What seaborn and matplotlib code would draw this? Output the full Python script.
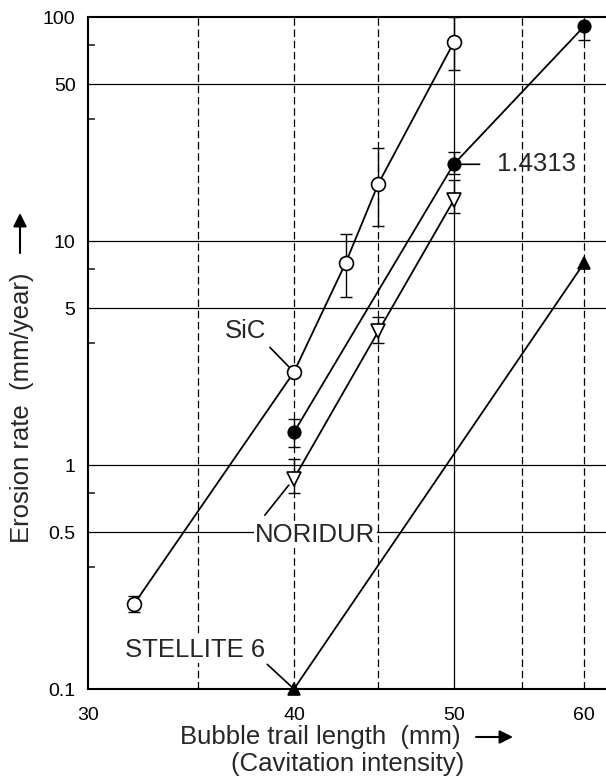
import matplotlib
matplotlib.use('Agg')
import matplotlib.pyplot as plt
import seaborn as sns
from matplotlib.ticker import FixedLocator, FixedFormatter, NullLocator

# 数据（从图上读取，对数坐标）
sic_x = [32, 40, 43, 45, 50]
sic_y = [0.24, 2.6, 8.0, 18.0, 77.0]
sic_lo = [0.22, 2.6, 5.6, 11.7, 58.0]
sic_hi = [0.26, 2.6, 10.7, 26.0, 100.0]

steel_x = [40, 50, 60]
steel_y = [1.4, 22.0, 91.0]
steel_lo = [1.2, 20.0, 79.0]
steel_hi = [1.6, 25.0, 91.0]

nor_x = [40, 45, 50]
nor_y = [0.87, 3.95, 15.2]
nor_lo = [0.75, 3.5, 13.4]
nor_hi = [1.06, 4.6, 18.7]

stel_x = [40, 60]
stel_y = [0.1, 8.0]

x_ticks = [30, 40, 50, 60]
x_ticklabels = ['30', '40', '50', '60']
y_ticks = [0.1, 0.5, 1, 5, 10, 50, 100]
y_ticklabels = ['0.1', '0.5', '1', '5', '10', '50', '100']
y_minor = [0.35, 0.75, 3.5, 7.5, 35, 75]
x_dashed = [35, 40, 45, 55, 60]
x_solid = [50]
y_grid = [0.5, 1, 5, 10, 50]

sns.set_theme(style="white")
plt.rcParams['font.family'] = ['Liberation Sans', 'DejaVu Sans']

fig = plt.figure(figsize=(6.06, 7.79), dpi=100)
ax = fig.add_axes([88 / 606, 90 / 779, 518 / 606, 672 / 779])
ax.set_xscale('log')
ax.set_yscale('log')
ax.set_xlim(30, 61.85)
ax.set_ylim(0.1, 100)

# 网格线
for v in x_dashed:
    ax.axvline(v, color='black', lw=0.9, ls=(0, (6, 3)), zorder=1)
for v in x_solid:
    ax.axvline(v, color='black', lw=0.9, zorder=1)
for v in y_grid:
    ax.axhline(v, color='black', lw=0.9, zorder=1)

# 各材料曲线
series = [
    (sic_x, sic_y, 'o', 'white', 10),
    (steel_x, steel_y, 'o', 'black', 9),
    (nor_x, nor_y, 'v', 'white', 10),
    (stel_x, stel_y, '^', 'black', 9),
]
for xs, ys, mk, fc, ms in series:
    sns.lineplot(x=xs, y=ys, ax=ax, color='black', lw=1.3, marker=mk,
                 markersize=ms, markerfacecolor=fc, markeredgecolor='black',
                 markeredgewidth=1.2, estimator=None, sort=False, zorder=4,
                 clip_on=False)

# 误差棒
for xs, ys, lo, hi in [(sic_x, sic_y, sic_lo, sic_hi),
                       (steel_x, steel_y, steel_lo, steel_hi),
                       (nor_x, nor_y, nor_lo, nor_hi)]:
    err = [[y - l for y, l in zip(ys, lo)], [h - y for y, h in zip(ys, hi)]]
    ax.errorbar(xs, ys, yerr=err, fmt='none', ecolor='black', elinewidth=1.0,
                capsize=4.5, capthick=1.0, zorder=3)

# 标注
lab_fs = 18.5
leader = dict(arrowstyle='-', color='black', lw=1.2)
ax.annotate('1.4313', xy=(50, 22), xytext=(53.1, 22), ha='left', va='center',
            fontsize=lab_fs, zorder=5,
            arrowprops=dict(leader, relpos=(0, 0.5), shrinkA=10, shrinkB=4))
ax.annotate('SiC', xy=(40, 2.6), xytext=(37.36, 3.96), ha='center', va='center',
            fontsize=lab_fs, zorder=5,
            arrowprops=dict(leader, relpos=(1, 0), shrinkA=1, shrinkB=5))
ax.annotate('NORIDUR', xy=(40, 0.87), xytext=(41.2, 0.487), ha='center', va='center',
            fontsize=lab_fs, zorder=5,
            bbox=dict(facecolor='white', edgecolor='none', pad=1),
            arrowprops=dict(leader, relpos=(0.03, 1), shrinkA=6, shrinkB=6))
ax.annotate('STELLITE 6', xy=(40, 0.1), xytext=(34.83, 0.149), ha='center', va='center',
            fontsize=lab_fs, zorder=5,
            bbox=dict(facecolor='white', edgecolor='none', pad=1),
            arrowprops=dict(leader, relpos=(1, 0), shrinkA=1, shrinkB=3))

# 坐标轴
ax.xaxis.set_major_locator(FixedLocator(x_ticks))
ax.xaxis.set_major_formatter(FixedFormatter(x_ticklabels))
ax.xaxis.set_minor_locator(NullLocator())
ax.yaxis.set_major_locator(FixedLocator(y_ticks))
ax.yaxis.set_major_formatter(FixedFormatter(y_ticklabels))
ax.yaxis.set_minor_locator(FixedLocator(y_minor))
ax.yaxis.set_minor_formatter(FixedFormatter([''] * len(y_minor)))
ax.tick_params(axis='both', which='major', length=0, labelsize=14, colors='black')
ax.tick_params(axis='x', pad=13)
ax.tick_params(axis='y', pad=9)
ax.tick_params(axis='y', which='minor', direction='in', length=5, width=1.2, left=True)
for side in ['left', 'bottom', 'top']:
    ax.spines[side].set_color('black')
    ax.spines[side].set_linewidth(1.5)
ax.spines['right'].set_visible(False)
ax.set_xlabel('')
ax.set_ylabel('')

# 轴标题与箭头
fig.text(22 / 606, 1 - 408 / 779, 'Erosion rate  (mm/year)', rotation=90,
         ha='center', va='center', fontsize=lab_fs)
fig.text(320 / 606, 1 - 737 / 779, 'Bubble trail length  (mm)',
         ha='center', va='center', fontsize=lab_fs)
fig.text(348 / 606, 1 - 764 / 779, '(Cavitation intensity)',
         ha='center', va='center', fontsize=lab_fs)
arrow = dict(arrowstyle='-|>', color='black', lw=1.5, mutation_scale=20, shrinkA=0, shrinkB=0)
fig.add_artist(matplotlib.patches.FancyArrowPatch((20 / 606, 1 - 253 / 779), (20 / 606, 1 - 213 / 779),
                                                  transform=fig.transFigure, **arrow))
fig.add_artist(matplotlib.patches.FancyArrowPatch((476 / 606, 1 - 737 / 779), (513 / 606, 1 - 737 / 779),
                                                  transform=fig.transFigure, **arrow))

fig.savefig('out.png', dpi=100)
